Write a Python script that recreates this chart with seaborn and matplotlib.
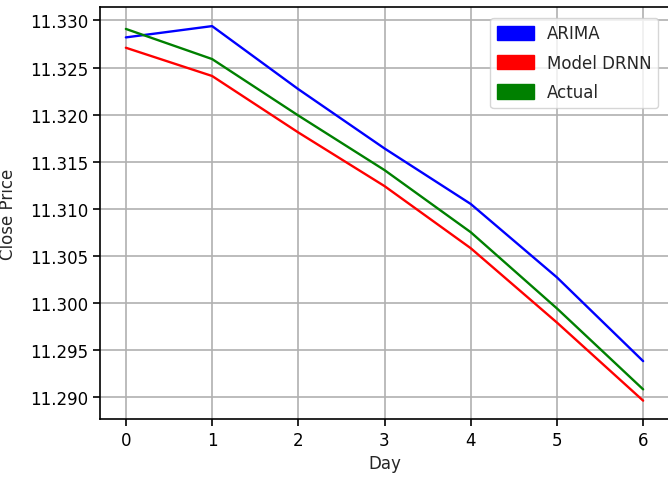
import matplotlib
matplotlib.use("Agg")
import matplotlib.pyplot as plt
import matplotlib.patches as mpatches
import seaborn as sns
import pandas as pd

days = [0, 1, 2, 3, 4, 5, 6]
arima = [11.3282, 11.3294, 11.3227, 11.3164, 11.3105, 11.3027, 11.2938]
drnn = [11.3271, 11.3241, 11.3181, 11.3124, 11.3058, 11.2979, 11.2896]
actual = [11.3291, 11.3259, 11.3199, 11.3141, 11.3075, 11.2994, 11.2908]
series_names = ["ARIMA", "Model DRNN", "Actual"]
colors = ["blue", "red", "green"]

df = pd.concat([
    pd.DataFrame({"Day": days, "Close Price": vals, "Series": name})
    for name, vals in zip(series_names, [arima, drnn, actual])
])

sns.set_style("ticks")
plt.rcParams["font.family"] = ["DejaVu Sans"]

fig = plt.figure(figsize=(6.68, 4.81), dpi=100)
ax = fig.add_axes([100 / 668, 61 / 481, 569 / 668, 412 / 481])
sns.lineplot(data=df, x="Day", y="Close Price", hue="Series",
             palette=dict(zip(series_names, colors)), linewidth=1.7,
             ax=ax, legend=False)

ax.grid(True, color="#b0b0b0", linewidth=1.2)
ax.set_axisbelow(True)
for s in ax.spines.values():
    s.set_visible(True)
    s.set_color("black")
    s.set_linewidth(1.2)
ax.tick_params(labelsize=12, length=5, width=1.2, colors="black")
ax.set_xlabel("Day", fontsize=12)
ax.set_ylabel("Close Price", fontsize=12, labelpad=9)
ax.set_xticks(days)
ax.set_yticks([11.290, 11.295, 11.300, 11.305, 11.310, 11.315, 11.320, 11.325, 11.330])
ax.set_yticklabels([f"{v:.3f}" for v in ax.get_yticks()])
ax.set_xlim(-0.3, 6.3)
ax.set_ylim(11.28765, 11.33143)

handles = [mpatches.Patch(color=c, label=n) for n, c in zip(series_names, colors)]
ax.legend(handles=handles, loc="upper right", fontsize=12, framealpha=0.8,
          handleheight=0.95, handlelength=2.2, labelspacing=0.68,
          borderaxespad=0.65)

fig.savefig("out.png", dpi=100)
